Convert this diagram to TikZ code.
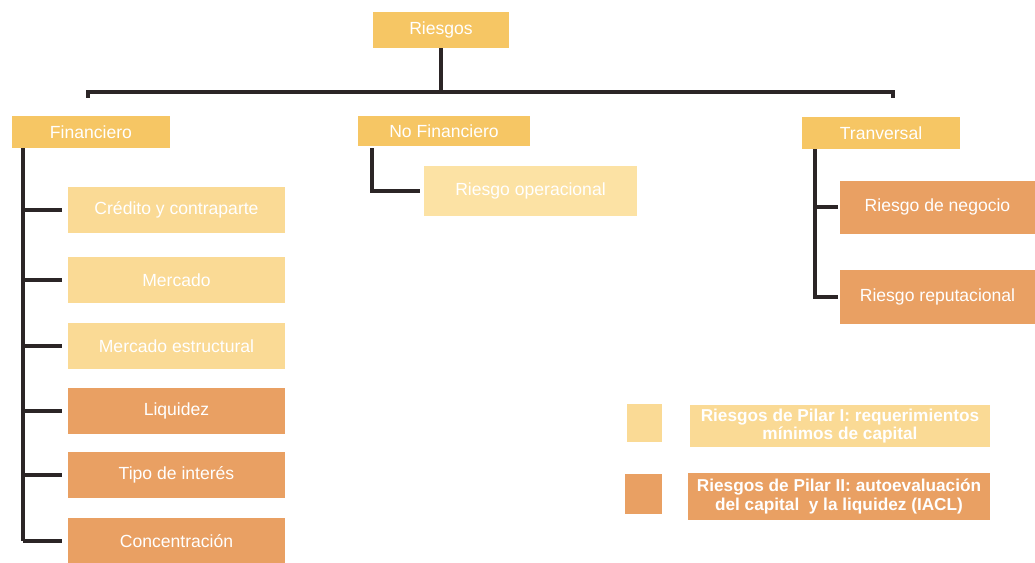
\documentclass[tikz,border=0pt]{standalone}
\usepackage{fontspec}
\setmainfont{Liberation Sans}
\definecolor{cabecera}{HTML}{F6C664}
\definecolor{pilaruno}{HTML}{FADA95}
\definecolor{pilardos}{HTML}{E9A063}
\definecolor{operac}{HTML}{FCE2A4}
\definecolor{linea}{HTML}{2B2526}

\begin{document}
\begin{tikzpicture}
   \useasboundingbox (0,0) rectangle (20.7,-11.26);
   \tikzstyle{head}=[rectangle, fill=cabecera, text=white, minimum width=3.16cm, minimum height=0.64cm, inner sep=0pt]
   \tikzstyle{box}=[rectangle, text=white, minimum width=4.34cm, minimum height=0.92cm, inner sep=0pt]
   \tikzstyle{tree}=[draw=linea, line width=2.7pt]
   \node[head, minimum width=2.72cm, minimum height=0.72cm] (riesgos) at (8.82,-0.6) {Riesgos};
   \node[head] (fin) at (1.82,-2.64) {Financiero};
   \node[head, minimum width=3.44cm, minimum height=0.6cm] (nofin) at (8.88,-2.62) {No Financiero};
   \node[head] (trans) at (17.62,-2.66) {Tranversal};
   % barra principal
   \coordinate (barleft) at (1.76,-1.84);
   \coordinate (barright) at (17.86,-1.84);
   \path[tree] (riesgos.south) -- (riesgos.south |- barleft);
   \path[tree] ([yshift=-0.12cm]barleft) -- (barleft) -- (barright) -- ([yshift=-0.12cm]barright);
   % financiero
   \coordinate (finspine) at (0.46,-2.96);
   \foreach \i/\word/\col/\y in {1/{Crédito y contraparte}/pilaruno/-4.2,2/{Mercado}/pilaruno/-5.6,
       3/{Mercado estructural}/pilaruno/-6.92,4/{Liquidez}/pilardos/-8.22,
       5/{Tipo de interés}/pilardos/-9.5,6/{Concentración}/pilardos/-10.82} {
       \node[box, fill=\col] (f\i) at (3.53,\y) {\word};
       \path[tree] (finspine |- f\i.west) -- ([xshift=-0.12cm]f\i.west);
   }
   \path[tree] (finspine) -- (finspine |- f6.west);
   % no financiero
   \node[box, fill=operac, minimum width=4.26cm, minimum height=1.0cm] (oper) at (10.61,-3.82) {Riesgo operacional};
   \coordinate (nofinspine) at (7.44,-2.96);
   \path[tree] (nofinspine) -- (nofinspine |- oper.west) -- ([xshift=-0.08cm]oper.west);
   % transversal
   \coordinate (transspine) at (16.3,-2.98);
   \node[box, fill=pilardos, minimum width=3.9cm, minimum height=1.06cm] (negocio) at (18.75,-4.14) {Riesgo de negocio};
   \node[box, fill=pilardos, minimum width=3.9cm, minimum height=1.08cm] (reput) at (18.75,-5.94) {Riesgo reputacional};
   \path[tree] (transspine) -- (transspine |- reput.west) -- ([xshift=-0.04cm]reput.west);
   \path[tree] (transspine |- negocio.west) -- ([xshift=-0.04cm]negocio.west);
   % leyenda
   \node[rectangle, fill=pilaruno, minimum width=0.7cm, minimum height=0.76cm] (ley1) at (12.89,-8.46) {};
   \node[box, fill=pilaruno, minimum width=6.0cm, minimum height=0.84cm, align=center, font=\fontsize{9.8}{10.4}\selectfont\bfseries] (txt1) at (16.8,-8.52) {Riesgos de Pilar I: requerimientos\\mínimos de capital};
   \node[rectangle, fill=pilardos, minimum width=0.74cm, minimum height=0.8cm] (ley2) at (12.87,-9.88) {};
   \node[box, fill=pilardos, minimum width=6.04cm, minimum height=0.94cm, align=center, font=\fontsize{9.8}{10.4}\selectfont\bfseries] (txt2) at (16.78,-9.93) {Riesgos de Pilar II: autoevaluación\\del capital\ \ y la liquidez (IACL)};
\end{tikzpicture}
\end{document}
